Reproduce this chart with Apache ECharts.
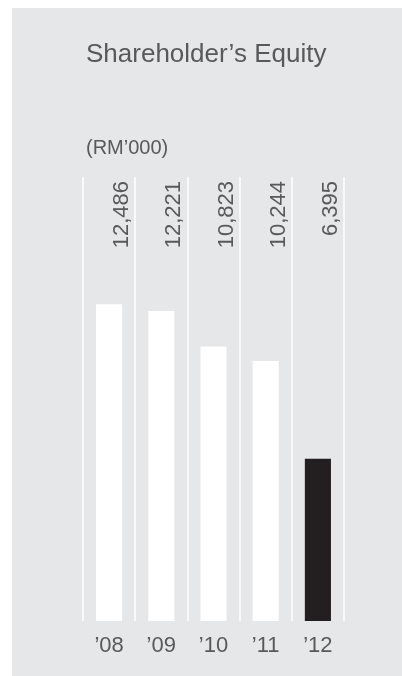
<!DOCTYPE html>
<html>
<head>
<meta charset="utf-8">
<script src="https://cdn.jsdelivr.net/npm/echarts@6/dist/echarts.min.js"></script>
<style>
html, body { margin: 0; padding: 0; background: #fff; }
#chart { position: absolute; left: 12px; top: 8px; width: 390px; height: 668px; }
</style>
</head>
<body>
<div id="chart"></div>
<script>
// data
const years = ['\u201908', '\u201909', '\u201910', '\u201911', '\u201912'];
const equity = [12486, 12221, 10823, 10244, 6395];
const highlightIndex = 4;

const textColor = '#58595b';
const fontName = 'Liberation Sans';

const chart = echarts.init(document.getElementById('chart'));

chart.setOption({
    backgroundColor: '#e6e7e8',
    animation: false,
    title: [
        {
            text: 'Shareholder\u2019s Equity',
            left: 69,
            top: 29,
            textStyle: { fontFamily: fontName, fontSize: 26, fontWeight: 'normal', color: textColor }
        },
        {
            text: '(RM\u2019000)',
            left: 69,
            top: 125,
            textStyle: { fontFamily: fontName, fontSize: 20, fontWeight: 'normal', color: textColor }
        }
    ],
    grid: { left: 71, right: 58, top: 169, bottom: 55 },
    xAxis: [
        {
            type: 'category',
            data: years,
            axisLine: { show: false },
            axisTick: { show: false },
            splitLine: { show: true, lineStyle: { color: '#ffffff', width: 1.5 } },
            axisLabel: { margin: 14, fontFamily: fontName, fontSize: 22, color: textColor }
        },
        {
            // value labels along the top of the plot
            type: 'category',
            position: 'top',
            data: equity.map(v => v.toLocaleString('en-US')),
            axisLine: { show: false },
            axisTick: { show: false },
            axisLabel: {
                inside: true,
                rotate: -90,
                margin: 4,
                align: 'right',
                verticalAlign: 'top',
                padding: [2, 0, 0, 0],
                fontFamily: fontName,
                fontSize: 22,
                color: textColor
            }
        }
    ],
    yAxis: {
        type: 'value',
        min: 0,
        max: 17500,
        show: false
    },
    series: [
        {
            type: 'bar',
            barWidth: '50%',
            data: equity.map((v, i) => ({
                value: v,
                itemStyle: { color: i === highlightIndex ? '#231f20' : '#ffffff' }
            }))
        }
    ]
});
</script>
</body>
</html>
